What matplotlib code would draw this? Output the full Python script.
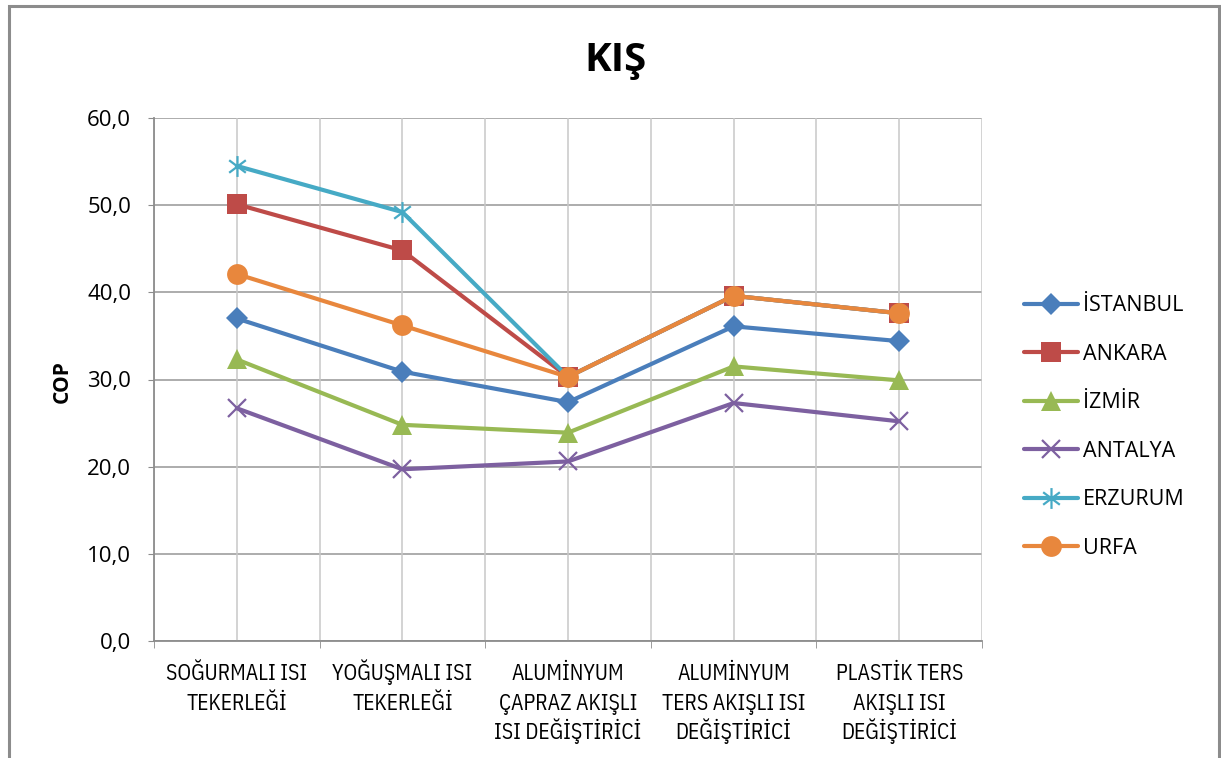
import matplotlib
matplotlib.use("Agg")
import matplotlib.pyplot as plt
from matplotlib.path import Path
from matplotlib.patches import Rectangle
from matplotlib.ticker import FixedLocator, FuncFormatter
from matplotlib.transforms import ScaledTranslation

plt.rcParams['font.family'] = ['Open Sans', 'DejaVu Sans']

categories = [
    "SOĞURMALI ISI\nTEKERLEĞİ",
    "YOĞUŞMALI ISI\nTEKERLEĞİ",
    "ALUMİNYUM\nÇAPRAZ AKIŞLI\nISI DEĞİŞTİRİCİ",
    "ALUMİNYUM\nTERS AKIŞLI ISI\nDEĞİŞTİRİCİ",
    "PLASTİK TERS\nAKIŞLI ISI\nDEĞİŞTİRİCİ",
]

istanbul = [37.0, 30.9, 27.4, 36.1, 34.4]
ankara = [50.1, 44.8, 30.3, 39.6, 37.6]
izmir = [32.3, 24.8, 23.9, 31.5, 29.9]
antalya = [26.7, 19.7, 20.6, 27.3, 25.2]
erzurum = [54.5, 49.2, 30.3, 39.6, 37.6]
urfa = [42.1, 36.2, 30.3, 39.6, 37.6]

series_names = ["İSTANBUL", "ANKARA", "İZMİR", "ANTALYA", "ERZURUM", "URFA"]
yticks = [0, 10, 20, 30, 40, 50, 60]

# asterisk marker: an x with a vertical bar
star_path = Path(
    [(-0.8, -0.6), (0.8, 0.6), (-0.8, 0.6), (0.8, -0.6), (0, -1), (0, 1)],
    [Path.MOVETO, Path.LINETO, Path.MOVETO, Path.LINETO, Path.MOVETO, Path.LINETO],
)

styles = [
    dict(color="#4A7EBB", marker="D", ms=11.5, mew=0),
    dict(color="#BE4B48", marker="s", ms=14, mew=0),
    dict(color="#98B954", marker="^", ms=15, mew=0),
    dict(color="#7D60A0", marker="x", ms=13.5, mew=1.6),
    dict(color="#46AAC5", marker=star_path, ms=15, mew=1.6),
    dict(color="#E8873D", marker="o", ms=15, mew=0),
]

W, H = 1221, 758
fig = plt.figure(figsize=(W / 100, H / 100), dpi=100)

# outer chart frame
fig.patches.append(Rectangle((9 / W, -0.05), (1219 - 9) / W, 1.05 - 6 / H,
                             transform=fig.transFigure, fill=False,
                             edgecolor="#8C8C8C", lw=2.2, zorder=0))

ax = fig.add_axes([154 / W, 1 - 641 / H, (982 - 154) / W, (641 - 118) / H])

x = list(range(len(categories)))
data = [istanbul, ankara, izmir, antalya, erzurum, urfa]
for name, vals, st in zip(series_names, data, styles):
    ax.plot(x, vals, color=st["color"], lw=3.0, marker=st["marker"],
            markersize=st["ms"], markeredgewidth=st["mew"],
            markerfacecolor=st["color"], markeredgecolor=st["color"],
            label=name, solid_capstyle="round", solid_joinstyle="round",
            zorder=3)

ax.set_xlim(-0.5, len(categories) - 0.5)
ax.set_ylim(0, 60)

ax.yaxis.set_major_locator(FixedLocator(yticks))
ax.yaxis.set_major_formatter(FuncFormatter(lambda v, p: f"{v:.1f}".replace(".", ",")))
ax.set_xticks(x)
ax.set_xticklabels([])
ax.set_xticks([i - 0.5 for i in range(len(categories) + 1)], minor=True)

# category labels: one text per line, each line on a common baseline row
label_font = ["IBM Plex Sans Condensed", "Open Sans", "DejaVu Sans"]
line_step_pt = 21.2
first_baseline_pt = 28.2
for xi, cat in zip(x, categories):
    for k, line in enumerate(cat.split("\n")):
        off = ScaledTranslation(0, -(first_baseline_pt + k * line_step_pt) / 72,
                                fig.dpi_scale_trans)
        ax.text(xi, 0, line, transform=ax.get_xaxis_transform() + off,
                ha="center", va="baseline", fontsize=15.5, family=label_font,
                clip_on=False)

ax.tick_params(axis="x", which="major", length=0)
ax.tick_params(axis="x", which="minor", length=5, color="#8C8C8C")
ax.tick_params(axis="y", length=4.5, color="#8C8C8C", labelsize=16, pad=12)

for v in yticks:
    ax.axhline(v, color="#A6A6A6", lw=1.3, zorder=1)
for i in range(len(categories)):
    ax.axvline(i, color="#C8C8C8", lw=1.1, zorder=1)
    ax.axvline(i - 0.5, color="#C8C8C8", lw=1.1, zorder=1)
ax.axvline(len(categories) - 0.5, color="#C8C8C8", lw=1.1, zorder=1)

for side in ["top", "right"]:
    ax.spines[side].set_visible(False)
ax.spines["left"].set_color("#8C8C8C")
ax.spines["bottom"].set_color("#8C8C8C")
ax.spines["left"].set_linewidth(1.3)
ax.spines["bottom"].set_linewidth(1.3)

fig.text(62 / W, 1 - 382 / H, "COP", rotation=90, ha="center", va="center",
         fontsize=15, fontweight="bold")
fig.text(615 / W, 1 - 60 / H, "KIŞ", ha="center", va="center",
         fontsize=29, fontweight="bold")

ax.legend(loc="center left", bbox_to_anchor=(1024 / W, 1 - 427 / H),
          bbox_transform=fig.transFigure, frameon=False, fontsize=15.5,
          handlelength=2.5, handletextpad=0.23, labelspacing=1.28,
          borderaxespad=0, borderpad=0)

fig.savefig("out.png", dpi=100)
